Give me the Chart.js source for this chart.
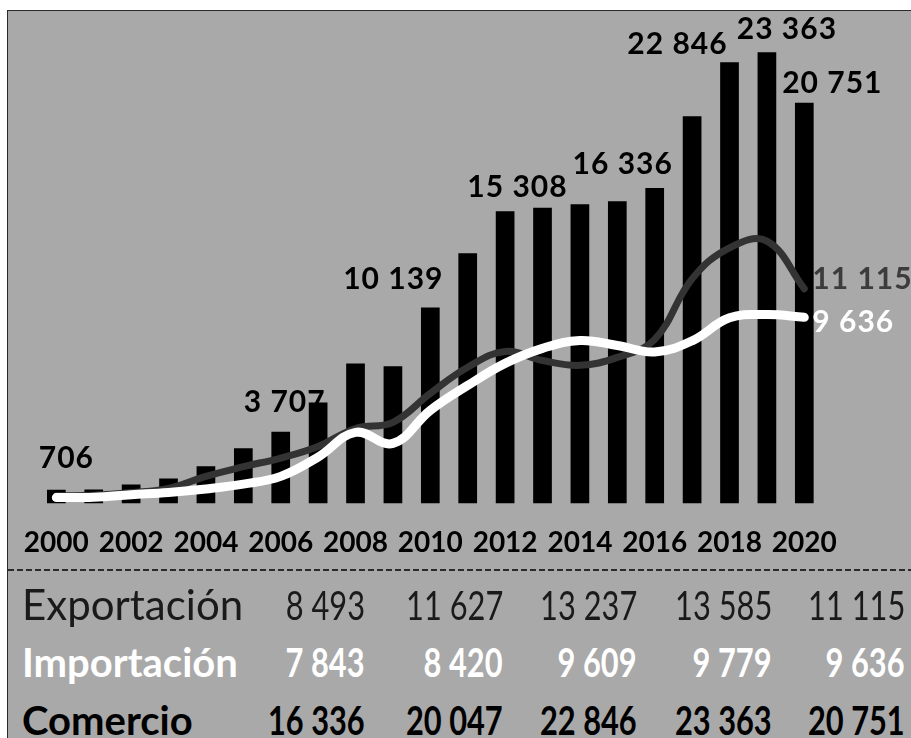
<!DOCTYPE html>
<html>
<head>
    <title>Comercio exterior 2000-2020</title>
    <script src="https://cdn.jsdelivr.net/npm/chart.js@4.4.1/dist/chart.umd.min.js"></script>
    <style>
        html, body {
            margin: 0;
            padding: 0;
            background-color: #ffffff;
            font-family: Lato, sans-serif;
        }
        .frame {
            position: absolute;
            left: 7px;
            top: 10px;
            width: 904px;
            height: 728px;
            background-color: #a9a9a9;
            border-top: 1px solid #2a2a2a;
            border-left: 1px solid #2a2a2a;
            box-sizing: border-box;
        }
        #chart {
            position: absolute;
            left: 0;
            top: 0;
        }
        .divider {
            position: absolute;
            left: 8px;
            top: 569px;
            width: 903px;
            height: 2px;
            background: repeating-linear-gradient(to right, #2a2a2a 0 6px, transparent 6px 9px);
        }
        .cell {
            position: absolute;
            white-space: nowrap;
            line-height: normal;
        }
        .num {
            transform: scaleX(0.77);
            transform-origin: right center;
        }
    </style>
</head>
<body>
    <div class="frame"></div>
    <canvas id="chart" width="911" height="590"></canvas>
    <div class="divider"></div>
    <div id="table"></div>

    <script>
        // Comercio total (barras), exportación e importación por año
        const years = ['2000', '2001', '2002', '2003', '2004', '2005', '2006', '2007', '2008', '2009', '2010',
                       '2011', '2012', '2013', '2014', '2015', '2016', '2017', '2018', '2019', '2020'];
        const comercio = [706, 725, 985, 1295, 1920, 2850, 3707, 5230, 7250, 7100, 10139,
                          12950, 15125, 15308, 15490, 15645, 16336, 20047, 22846, 23363, 20751];
        const exportacion = [400, 420, 560, 780, 1400, 1900, 2350, 2950, 3880, 4200, 5700,
                             7050, 7870, 7400, 7150, 7560, 8493, 11627, 13237, 13585, 11115];
        const importacion = [300, 320, 450, 570, 750, 1000, 1400, 2400, 3680, 3110, 4820,
                             6110, 7250, 8030, 8440, 8180, 7843, 8420, 9609, 9779, 9636];

        // barras con su valor escrito encima
        const barLabelIdx = [0, 6, 10, 13, 16, 18, 19, 20];
        // años que salen en la tabla de abajo
        const tableFrom = 16;

        function fmt(v, sep) {
            return String(v).replace(/\B(?=(\d{3})+(?!\d))/g, sep);
        }

        // desplazamiento de cada etiqueta respecto a la punta de su barra
        const barLabelShift = [[10, -33], [4, -31], [-37, -30], [-25, -22], [-32, -25], [-52, -19], [20, -24], [28, -21]];

        const valueLabels = {
            id: 'valueLabels',
            afterDatasetsDraw(chart) {
                const ctx = chart.ctx;
                const bars = chart.getDatasetMeta(2).data;
                ctx.save();
                ctx.font = 'bold 30px Lato';
                ctx.letterSpacing = '1px';
                ctx.textAlign = 'center';
                ctx.textBaseline = 'alphabetic';
                ctx.fillStyle = '#000';
                barLabelIdx.forEach((i, k) => {
                    const bar = bars[i];
                    const [dx, dy] = barLabelShift[k];
                    ctx.fillText(fmt(comercio[i], ' '), bar.x + dx, bar.y + dy + 11);
                });

                // valores finales de cada línea
                ctx.textAlign = 'left';
                const last = years.length - 1;
                const exp = chart.getDatasetMeta(1).data[last];
                const imp = chart.getDatasetMeta(0).data[last];
                ctx.fillStyle = '#3c3c3c';
                ctx.fillText(fmt(exportacion[last], ' '), exp.x + 8, exp.y);
                ctx.fillStyle = '#ffffff';
                ctx.fillText(fmt(importacion[last], ' '), imp.x + 8, imp.y + 15);
                ctx.restore();
            }
        };

        new Chart(document.getElementById('chart').getContext('2d'), {
            type: 'bar',
            data: {
                labels: years,
                datasets: [{
                    type: 'line',
                    label: 'Importación',
                    data: importacion,
                    borderColor: '#ffffff',
                    borderWidth: 9,
                    tension: 0.4,
                    pointRadius: 0,
                    borderCapStyle: 'round',
                    order: 1
                }, {
                    type: 'line',
                    label: 'Exportación',
                    data: exportacion,
                    borderColor: '#333333',
                    borderWidth: 7,
                    tension: 0.4,
                    pointRadius: 0,
                    borderCapStyle: 'round',
                    order: 2
                }, {
                    label: 'Comercio',
                    data: comercio,
                    backgroundColor: '#000000',
                    barPercentage: 0.5,
                    categoryPercentage: 1,
                    order: 3
                }]
            },
            options: {
                responsive: false,
                animation: false,
                layout: {
                    padding: { left: 36, right: 88, top: 11, bottom: 7 }
                },
                plugins: {
                    legend: { display: false },
                    tooltip: { enabled: false }
                },
                scales: {
                    x: {
                        grid: { display: false, drawTicks: false },
                        border: { display: false },
                        ticks: {
                            autoSkip: false,
                            maxRotation: 0,
                            padding: 23,
                            color: '#000',
                            font: { family: 'Lato', weight: 'bold', size: 28 },
                            callback: function (value, index) {
                                return index % 2 === 0 ? years[index] : '';
                            }
                        }
                    },
                    y: {
                        display: false,
                        min: 0,
                        max: 25500
                    }
                }
            },
            plugins: [valueLabels]
        });

        // tabla de los últimos cinco años
        const rows = [
            { name: 'Exportación', values: exportacion, base: 620, color: '#1a1a1a', weight: 400, nameSize: 42 },
            { name: 'Importación', values: importacion, base: 677, color: '#ffffff', weight: 700, nameSize: 40 },
            { name: 'Comercio', values: comercio, base: 735, color: '#000000', weight: 700, nameSize: 40 }
        ];
        const colRight = [365, 503, 637, 772, 905];
        const table = document.getElementById('table');
        rows.forEach(row => {
            const name = document.createElement('div');
            name.className = 'cell';
            name.textContent = row.name;
            name.style.left = '22px';
            name.style.top = (row.base - 0.987 * row.nameSize) + 'px';
            name.style.fontSize = row.nameSize + 'px';
            name.style.fontWeight = row.weight;
            name.style.color = row.color;
            table.appendChild(name);

            row.values.slice(tableFrom).forEach((v, c) => {
                const cell = document.createElement('div');
                cell.className = 'cell num';
                cell.textContent = fmt(v, ' ');
                cell.style.right = (911 - colRight[c]) + 'px';
                cell.style.top = (row.base - 0.987 * 40) + 'px';
                cell.style.fontSize = '40px';
                cell.style.fontWeight = row.weight;
                cell.style.color = row.color;
                table.appendChild(cell);
            });
        });
    </script>
</body>
</html>
